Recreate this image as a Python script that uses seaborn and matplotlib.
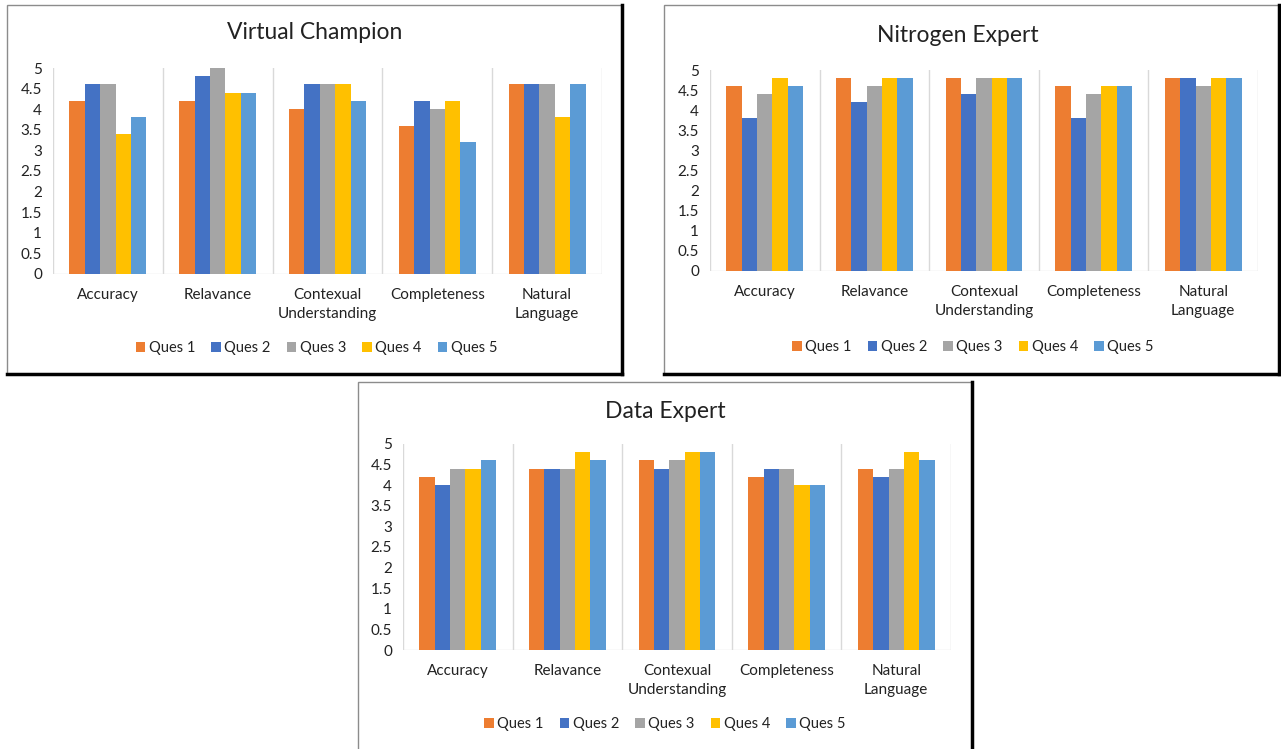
import matplotlib
matplotlib.use("Agg")
import matplotlib.pyplot as plt
from matplotlib.patches import Rectangle
import pandas as pd
import seaborn as sns

categories = ["Accuracy", "Relavance", "Contexual\nUnderstanding",
              "Completeness", "Natural\nLanguage"]
questions = ["Ques 1", "Ques 2", "Ques 3", "Ques 4", "Ques 5"]
palette = ["#ED7D31", "#4472C4", "#A5A5A5", "#FFC000", "#5B9BD5"]
y_ticks = [0, 0.5, 1, 1.5, 2, 2.5, 3, 3.5, 4, 4.5, 5]
y_tick_labels = ["0", "0.5", "1", "1.5", "2", "2.5", "3", "3.5", "4", "4.5", "5"]

# Scores: one list per question, values in category order
virtual_q1 = [4.2, 4.2, 4.0, 3.6, 4.6]
virtual_q2 = [4.6, 4.8, 4.6, 4.2, 4.6]
virtual_q3 = [4.6, 5.0, 4.6, 4.0, 4.6]
virtual_q4 = [3.4, 4.4, 4.6, 4.2, 3.8]
virtual_q5 = [3.8, 4.4, 4.2, 3.2, 4.6]

nitrogen_q1 = [4.6, 4.8, 4.8, 4.6, 4.8]
nitrogen_q2 = [3.8, 4.2, 4.4, 3.8, 4.8]
nitrogen_q3 = [4.4, 4.6, 4.8, 4.4, 4.6]
nitrogen_q4 = [4.8, 4.8, 4.8, 4.6, 4.8]
nitrogen_q5 = [4.6, 4.8, 4.8, 4.6, 4.8]

data_q1 = [4.2, 4.4, 4.6, 4.2, 4.4]
data_q2 = [4.0, 4.4, 4.4, 4.4, 4.2]
data_q3 = [4.4, 4.4, 4.6, 4.4, 4.4]
data_q4 = [4.4, 4.8, 4.8, 4.0, 4.8]
data_q5 = [4.6, 4.6, 4.8, 4.0, 4.6]


def long_table(series):
    rows = []
    for q, vals in zip(questions, series):
        for c, v in zip(categories, vals):
            rows.append({"Category": c, "Question": q, "Score": v})
    return pd.DataFrame(rows)


panels = [
    ("Virtual Champion", [virtual_q1, virtual_q2, virtual_q3, virtual_q4, virtual_q5]),
    ("Nitrogen Expert", [nitrogen_q1, nitrogen_q2, nitrogen_q3, nitrogen_q4, nitrogen_q5]),
    ("Data Expert", [data_q1, data_q2, data_q3, data_q4, data_q5]),
]

W, H = 1281, 749
fig = plt.figure(figsize=(W / 100, H / 100), dpi=100)
fig.patch.set_facecolor("white")

plt.rcParams["font.family"] = ["Lato", "DejaVu Sans"]
TEXT = "#222222"


def px_rect(x0, y0, x1, y1):
    return [x0 / W, 1 - y1 / H, (x1 - x0) / W, (y1 - y0) / H]


def frame(x0, y0, x1, y1, bottom_dark=True):
    # light outline with a dark drop edge on the right and bottom
    fig.patches.append(Rectangle((x0 / W, 1 - y1 / H), (x1 - x0) / W, (y1 - y0) / H,
                                 transform=fig.transFigure, fill=False,
                                 edgecolor="#8c8c8c", lw=1.0, zorder=0))
    fig.lines.append(plt.Line2D([x1 / W, x1 / W], [1 - y0 / H, 1 - y1 / H],
                                transform=fig.transFigure, color="black", lw=2.5))
    if bottom_dark:
        fig.lines.append(plt.Line2D([x0 / W, x1 / W], [1 - y1 / H, 1 - y1 / H],
                                    transform=fig.transFigure, color="black", lw=2.5))


frame(7, 5, 622, 374)
frame(664, 5, 1279, 374)
frame(358, 382, 972, 752, bottom_dark=False)

# axes boxes in pixels: left, top, right, bottom
axes_px = [(53, 68, 602, 274), (710, 70, 1258, 271), (403, 444, 951, 650)]
title_pos = [(0.477, 1.17), (0.453, 1.174), (0.478, 1.16)]
legend_pos = [(0.48, -0.36), (0.48, -0.378), (0.478, -0.36)]

for (name, series), (l, t, r, b), tp, lp in zip(panels, axes_px, title_pos, legend_pos):
    ax = fig.add_axes(px_rect(l, t, r, b))
    df = long_table(series)
    sns.barplot(data=df, x="Category", y="Score", hue="Question",
                order=categories, hue_order=questions, palette=palette,
                width=0.7, gap=0, saturation=1, edgecolor="none",
                errorbar=None, ax=ax)
    ax.set_xlim(-0.5, 4.5)
    ax.set_ylim(0, 5)
    ax.set_yticks(y_ticks)
    ax.set_yticklabels(y_tick_labels)
    for k in range(6):
        ax.axvline(k - 0.5, color="#D9D9D9", lw=1, zorder=0)
    ax.axhline(0, color="#E3E3E3", lw=1, zorder=0)
    for s in ax.spines.values():
        s.set_visible(False)
    ax.tick_params(axis="both", length=0, labelsize=11, colors=TEXT)
    ax.tick_params(axis="x", pad=10)
    ax.tick_params(axis="y", pad=8)
    for lab in ax.get_xticklabels():
        lab.set_linespacing(1.45)
    ax.set_xlabel("")
    ax.set_ylabel("")
    ax.text(tp[0], tp[1], name, transform=ax.transAxes, ha="center", va="center",
            fontsize=16.5, color=TEXT)
    ax.legend(loc="center", bbox_to_anchor=lp, ncol=5, frameon=False,
              fontsize=10.5, handlelength=0.65, handleheight=0.65,
              handletextpad=0.25, columnspacing=1.1, labelcolor=TEXT)

fig.savefig("out.png", dpi=100, facecolor="white")
